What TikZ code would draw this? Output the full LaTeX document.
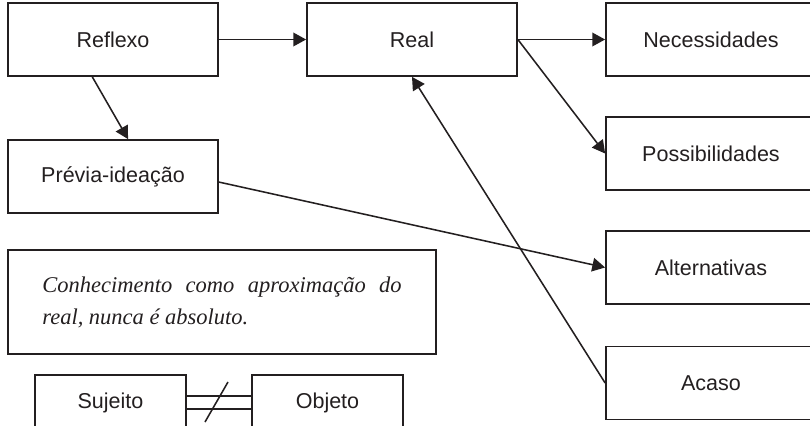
\documentclass[tikz,border=0pt]{standalone}
\usepackage{fontspec}
\setmainfont{Liberation Serif}
\setsansfont{Liberation Sans}
\usepackage{xcolor}
\usepackage{tikz}
\usetikzlibrary{arrows.meta}
\definecolor{inkcolor}{HTML}{231F20}

\tikzset{
  box/.style={draw=inkcolor, line width=1.2pt, minimum width=5.25cm, minimum height=1.825cm,
    inner sep=0pt, text=inkcolor, font=\sffamily\fontsize{15.3}{18}\selectfont},
  smallbox/.style={box, minimum width=3.775cm, minimum height=1.4cm},
  link/.style={draw=inkcolor, line width=1.1pt, -{Triangle[length=3.2mm,width=3.4mm]}}
}

\begin{document}
\begin{tikzpicture}[x=0.025cm,y=-0.025cm]
\clip (0,0) rectangle (810,426);
%% left column
\node[box] (reflexo) at (113,39.5) {Reflexo};
\node[box] (previa) at (113,176.5) {Prévia-ideação};
\node[box, minimum width=10.7cm, minimum height=2.6cm, text width=8.98cm, align=justify,
      font=\rmfamily\itshape\fontsize{16}{22.7}\selectfont] (conhec) at (222,302)
      {Conhecimento como aproximação do\linebreak real, nunca é absoluto.};
\node[smallbox] (sujeito) at (110.5,403) {Sujeito};
\node[smallbox] (objeto) at (327.5,403) {Objeto};
%% middle and right column
\node[box] (real) at (412,39.5) {Real};
\node[box] (necess) at (711,39.5) {Necessidades};
\node[box] (possib) at (711,153.5) {Possibilidades};
\node[box] (altern) at (711,267.5) {Alternativas};
\node[box] (acaso) at (711,383) {Acaso};

\draw[link] (reflexo) -- (real);
\draw[link] (real.east) -- (necess.west);
\draw[link] (real.east) -- (possib.west);
\draw[link] (reflexo.-119) -- (previa.68);
\draw[link] (previa.-3) -- (altern.west);
\draw[link] (acaso.west) -- (real.south);

%% sujeito / objeto: crossed double line
\draw[inkcolor, line width=1.1pt] ([yshift=0.175cm]sujeito.east) -- ([yshift=0.175cm]objeto.west);
\draw[inkcolor, line width=1.1pt] ([yshift=-0.15cm]sujeito.east) -- ([yshift=-0.15cm]objeto.west);
\coordinate (slashtop) at (228,382);
\coordinate (slashbot) at (205,422);
\draw[inkcolor, line width=1.1pt] (slashtop) -- (slashbot);
\end{tikzpicture}
\end{document}
